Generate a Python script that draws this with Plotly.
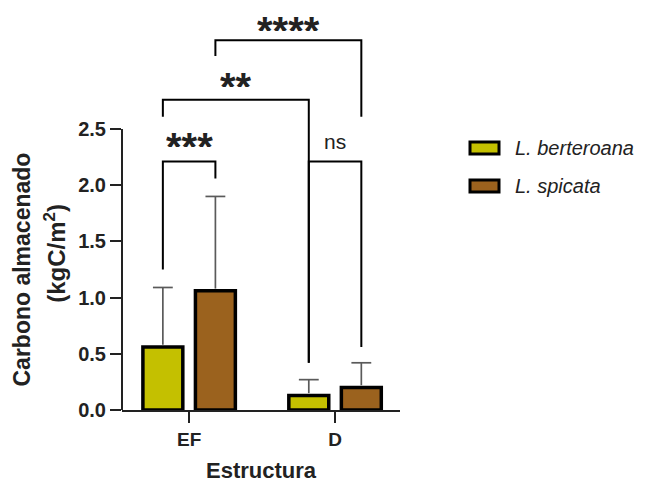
import plotly.graph_objects as go

# ---- data ----
categories = ["EF", "D"]
species = ["L. berteroana", "L. spicata"]
mean_berteroana = [0.56, 0.13]
sd_berteroana = [0.53, 0.14]
mean_spicata = [1.06, 0.20]
sd_spicata = [0.84, 0.22]
colors = ["#C4C000", "#9B621E"]
y_ticks = [0.0, 0.5, 1.0, 1.5, 2.0, 2.5]

# comparisons: (group_a, bar_a, group_b, bar_b, top, end_a, end_b, label, label_y)
comparisons = [
    (0, 0, 0, 1, 2.21, 1.25, 2.06, "***", 2.39),
    (0, 0, 1, 0, 2.76, 2.61, 0.42, "**", 2.93),
    (0, 1, 1, 1, 3.29, 3.15, 2.61, "****", 3.47),
    (1, 0, 1, 1, 2.21, 0.42, 0.56, "ns", 2.39),
]

# ---- layout constants ----
OFF = 8  # default page body margin
W, H = 650, 484
ML, MR, MT, MB = 122 - OFF, 650 - 400 + OFF, 0, 484 - 410 + OFF
BARGAP = 0.28
BARGROUPGAP = 0.24
CAP_HALF = 0.068  # half width of error-bar caps in category units
STAR_BOX = 22
plot_w = W - ML - MR
plot_h = H - MT - MB
PX_PER_UNIT = 112.4
YMAX = plot_h / PX_PER_UNIT


def px_x(px):
    return (px - OFF - ML) / plot_w


def px_y(py):
    return (H - MB - (py - OFF)) / plot_h


offset = (1 - BARGAP) / 4
bar_pos = lambda g, b: g + (-offset if b == 0 else offset)

fig = go.Figure()
series = [
    (species[0], mean_berteroana, sd_berteroana, colors[0]),
    (species[1], mean_spicata, sd_spicata, colors[1]),
]
for name, means, sds, col in series:
    fig.add_trace(go.Bar(
        x=list(range(len(categories))), y=means, name=name,
        marker=dict(color=col, line=dict(color="black", width=3.5)),
        showlegend=False,
    ))

# upward-only error bars (stem + top cap)
for b, (name, means, sds, col) in enumerate(series):
    for g, (m, s) in enumerate(zip(means, sds)):
        xc = bar_pos(g, b)
        fig.add_trace(go.Scatter(
            x=[xc, xc, None, xc - CAP_HALF, xc + CAP_HALF],
            y=[m + 0.02, m + s, None, m + s, m + s], mode="lines",
            line=dict(color="#5a5a5a", width=1.7), showlegend=False,
            hoverinfo="skip",
        ))

# significance brackets
for ga, ba, gb, bb, top, ea, eb, lab, ly in comparisons:
    xa, xb = bar_pos(ga, ba), bar_pos(gb, bb)
    fig.add_trace(go.Scatter(
        x=[xa, xa, xb, xb], y=[ea, top, top, eb], mode="lines",
        line=dict(color="black", width=2), showlegend=False, hoverinfo="skip",
    ))
    if "*" in lab:
        # room above the label box before the top edge of the figure
        room = (YMAX - ly) * PX_PER_UNIT - STAR_BOX / 2
        fig.add_annotation(
            x=(xa + xb) / 2, y=ly, text=lab, showarrow=False,
            xref="x", yref="y", yanchor="middle", height=STAR_BOX, valign="top",
            yshift=max(0, min(5, room - 1)),
            font=dict(family="Liberation Sans", size=40, color="#222222",
                      weight="bold"),
        )
    else:
        fig.add_annotation(
            x=(xa + xb) / 2, y=ly, text=lab, showarrow=False,
            xref="x", yref="y", yanchor="middle",
            font=dict(family="Liberation Sans", size=21, color="#222222"),
        )

# y axis line only from 0 to 2.5
fig.add_shape(type="line", xref="paper", yref="y", x0=0, x1=0,
              y0=0, y1=max(y_ticks), line=dict(color="#222222", width=2))

# y title (two lines)
fig.add_annotation(xref="paper", yref="y", x=px_x(21), y=max(y_ticks) / 2,
                   xanchor="center", yanchor="middle",
                   text="Carbono almacenado", textangle=-90, showarrow=False,
                   font=dict(family="Liberation Sans", size=23, color="#222222",
                             weight="bold"))
fig.add_annotation(xref="paper", yref="y", x=px_x(55), y=max(y_ticks) / 2 + 0.14,
                   xanchor="center", yanchor="middle",
                   text="(kgC/m<sup>2</sup>)", textangle=-90, showarrow=False,
                   font=dict(family="Liberation Sans", size=24, color="#222222",
                             weight="bold"))

# custom legend
for i, (name, col) in enumerate(zip(species, colors)):
    cy = 148 + i * 38
    fig.add_shape(type="rect", xref="paper", yref="paper",
                  x0=px_x(470), x1=px_x(499), y0=px_y(cy + 6), y1=px_y(cy - 6),
                  fillcolor=col, line=dict(color="black", width=3))
    fig.add_annotation(xref="paper", yref="paper", x=px_x(513), y=px_y(cy),
                       xanchor="left", yanchor="middle", text=name, showarrow=False,
                       font=dict(family="Liberation Sans", size=20, color="#222222",
                                 style="italic"))

fig.update_layout(
    width=W, height=H,
    margin=dict(l=ML, r=MR, t=MT, b=MB),
    paper_bgcolor="white", plot_bgcolor="white",
    barmode="group", bargap=BARGAP, bargroupgap=BARGROUPGAP,
    xaxis=dict(
        range=[-0.46, 1.445], tickvals=list(range(len(categories))),
        ticktext=categories, showline=True, linecolor="#222222", linewidth=2,
        ticks="outside", ticklen=11, tickwidth=2, tickcolor="#222222",
        showgrid=False, zeroline=False,
        tickfont=dict(family="Liberation Sans", size=19, color="#222222",
                      weight="bold"),
        title=dict(text="Estructura", standoff=14,
                   font=dict(family="Liberation Sans", size=22, color="#222222",
                             weight="bold")),
    ),
    yaxis=dict(
        range=[0, YMAX], tickvals=y_ticks,
        ticktext=[f"{v:.1f}" for v in y_ticks],
        showline=False, ticks="outside", ticklen=11, tickwidth=2,
        tickcolor="#222222", showgrid=False, zeroline=False,
        tickfont=dict(family="Liberation Sans", size=20, color="#222222",
                      weight="bold"),
    ),
)

fig.write_html("out.html")
